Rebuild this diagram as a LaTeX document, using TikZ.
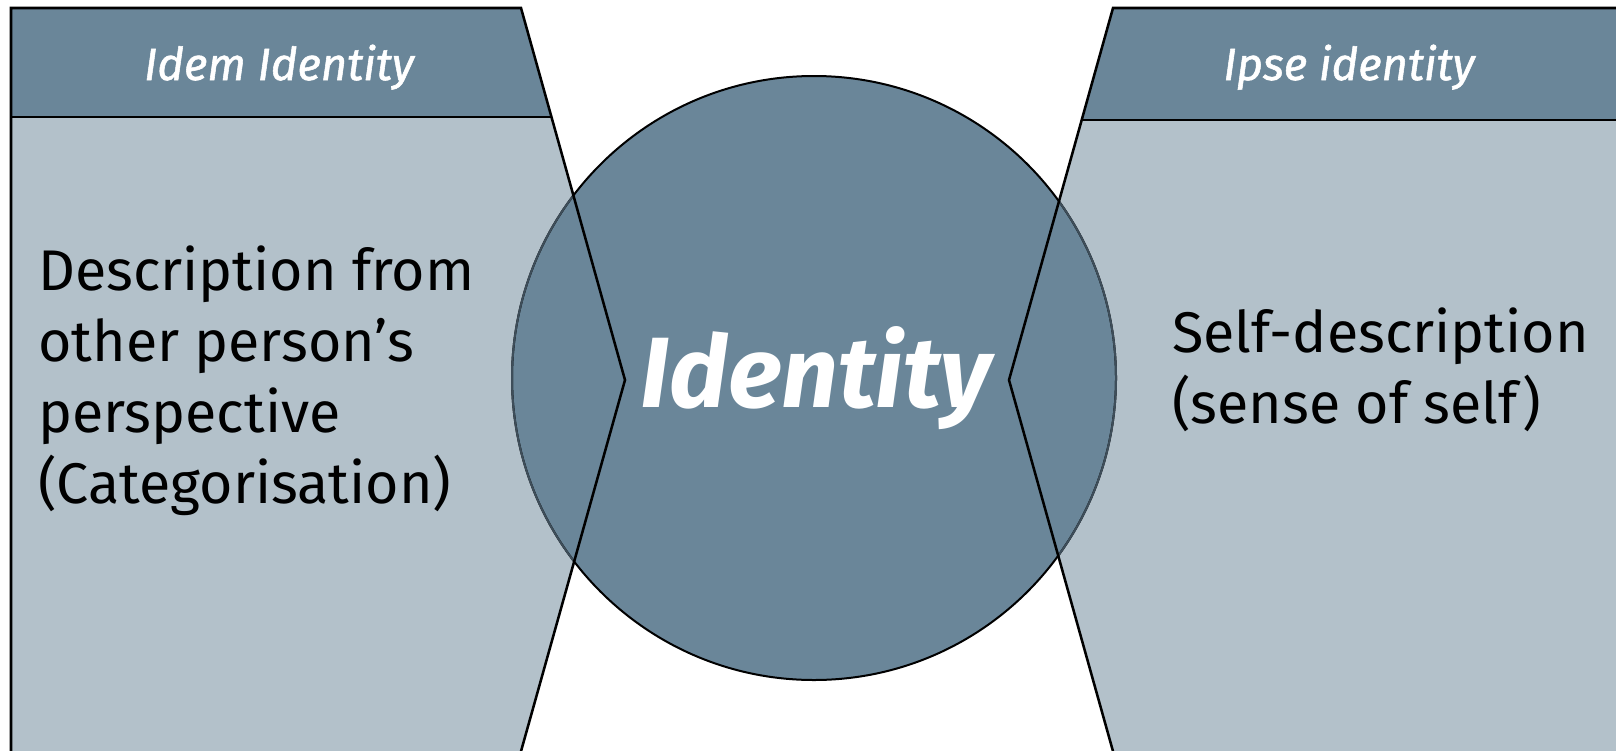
\documentclass[tikz,border=0pt]{standalone}
\usepackage{fontspec}
\setmainfont{Fira Sans}
\definecolor{hdr}{HTML}{6A8699}
\definecolor{bodyc}{HTML}{B3C1CA}
\definecolor{dimline}{HTML}{3E4E5A}
\tikzset{
  edge/.style={draw=black, line width=1.9pt, line join=miter},
  hdrtext/.style={anchor=base, text=white, inner sep=0pt, font=\fontsize{34}{40}\selectfont\itshape\addfontfeature{FakeBold=1.2}},
  bodytext/.style={anchor=base west, align=left, inner sep=0pt, text=black, font=\fontsize{43}{53.25}\selectfont},
}
\begin{document}
\begin{tikzpicture}[x=0.75pt,y=-0.75pt]
\useasboundingbox (0,0) rectangle (1616,750);
\clip (0,0) rectangle (1616,750);
% left shape coordinates
\coordinate (LTL) at (11,8);
\coordinate (LTR) at (521,8);
\coordinate (LDL) at (11,117);
\coordinate (LDR) at (551,117);
\coordinate (LP)  at (625,380);
\coordinate (LBR) at (518,762);
\coordinate (LBL) at (11,762);
% right shape coordinates
\coordinate (RTL) at (1113,8);
\coordinate (RTR) at (1640,8);
\coordinate (RDL) at (1082,120);
\coordinate (RDR) at (1640,120);
\coordinate (RP)  at (1009,380);
\coordinate (RBL) at (1116,762);
\coordinate (RBR) at (1640,762);
% fills
\fill[bodyc] (LDL) -- (LDR) -- (LP) -- (LBR) -- (LBL) -- cycle;
\fill[hdr] (LTL) -- (LTR) -- (LDR) -- (LDL) -- cycle;
\fill[bodyc] (RDL) -- (RDR) -- (RBR) -- (RBL) -- (RP) -- cycle;
\fill[hdr] (RTL) -- (RTR) -- (RDR) -- (RDL) -- cycle;
% circle
\node[circle, draw=black, fill=hdr, line width=1.5pt, minimum size=453pt, inner sep=0pt] (circ) at (814,378) {};
\begin{scope}
  \clip (LDL) -- (LDR) -- (LP) -- (LBR) -- (LBL) -- cycle
        (RDL) -- (RDR) -- (RBR) -- (RBL) -- (RP) -- cycle;
  \draw[dimline, line width=1.5pt] (circ.center) circle[radius=302];
\end{scope}
% outlines
\draw[edge] (LBL) -- (LTL) -- (LTR) -- (LP) -- (LBR);
\draw[edge] (LDL) -- (LDR);
\draw[edge] (RTR) -- (RTL) -- (RP) -- (RBL);
\draw[edge] (RDL) -- (RDR);
% texts
\node[hdrtext] (idem) at (279,80) {Idem Identity};
\node[hdrtext] (ipse) at (1349,80) {Ipse identity};
\node[anchor=base, inner sep=0pt, text=white, font=\fontsize{75}{90}\selectfont\bfseries\itshape] (ident) at (816,407) {Identity};
\node[bodytext] (ltext) at (38,503) {Description from\\other person’s\\perspective\\(Categorisation)};
\node[bodytext] (rtext) at (1172,423) {Self-description\\(sense of self)};
\end{tikzpicture}
\end{document}
